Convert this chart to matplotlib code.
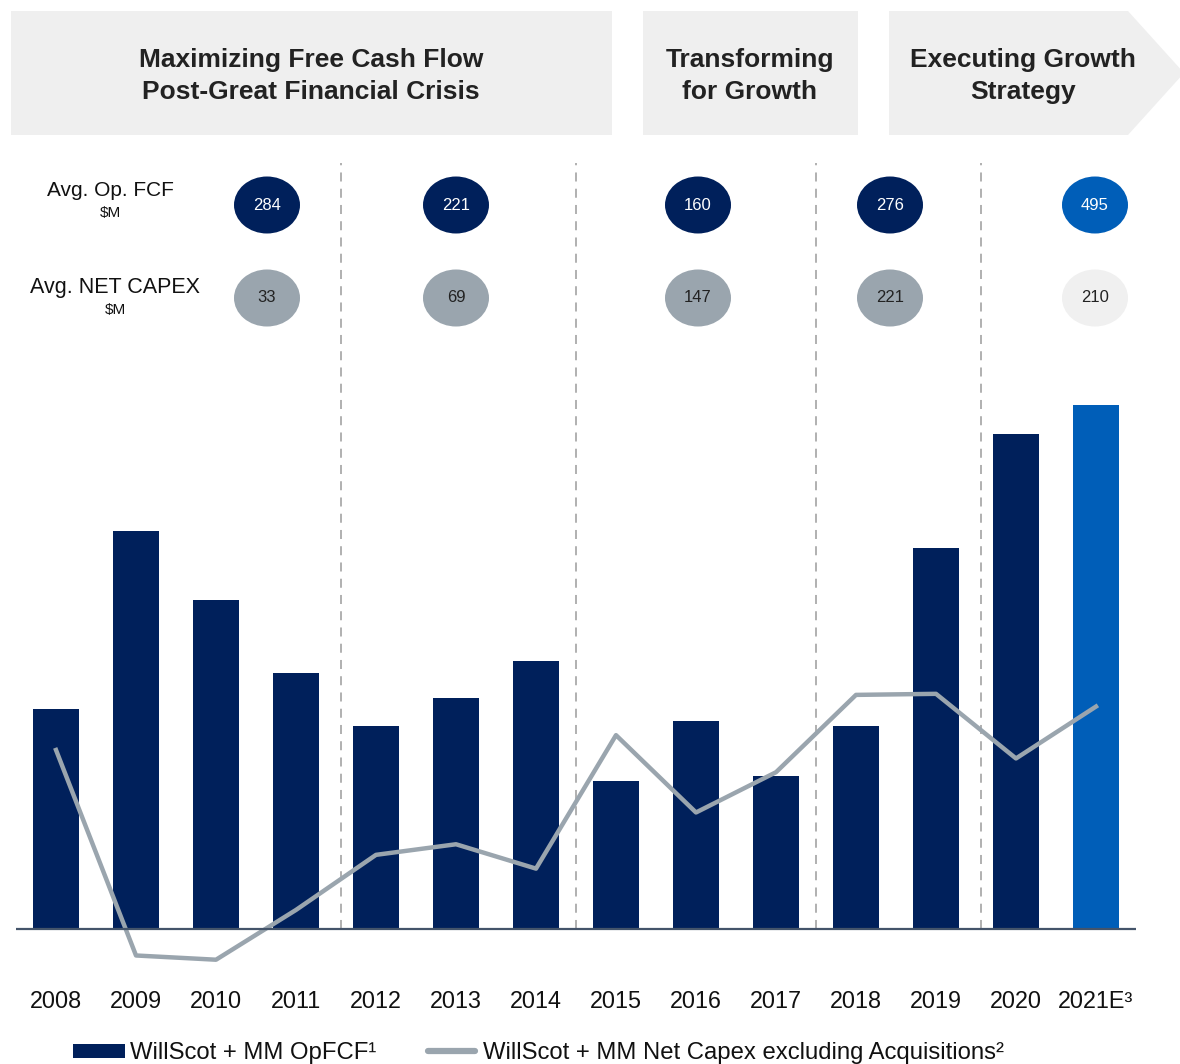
import matplotlib.pyplot as plt
from matplotlib.patches import Rectangle, Ellipse, Polygon

plt.rcParams['font.family'] = ['Liberation Sans', 'DejaVu Sans']

years = ['2008', '2009', '2010', '2011', '2012', '2013', '2014',
         '2015', '2016', '2017', '2018', '2019', '2020', '2021E³']
opfcf = [208, 376, 311, 242, 192, 218, 253, 140, 196, 144, 192, 360, 467, 495]
capex = [169, -25, -29, 18, 70, 80, 57, 183, 110, 148, 221, 222, 161, 210]

phases = ['Maximizing Free Cash Flow\nPost-Great Financial Crisis',
          'Transforming\nfor Growth',
          'Executing Growth\nStrategy']
avg_fcf = ['284', '221', '160', '276', '495']
avg_capex = ['33', '69', '147', '221', '210']
dividers = [3.56, 6.5, 9.5, 11.56]

NAVY = '#00205b'
BLUE = '#005eb8'
GREY = '#9aa5ae'

W, H = 1180, 1064
fig = plt.figure(figsize=(W / 100, H / 100), dpi=100)

# overlay in pixel coords for header, bubbles, legend
ov = fig.add_axes([0, 0, 1, 1])
ov.set_xlim(0, W)
ov.set_ylim(H, 0)
ov.axis('off')

ov.add_patch(Rectangle((11, 11), 601, 124, color='#efefef', lw=0))
ov.add_patch(Rectangle((643, 11), 215, 124, color='#efefef', lw=0))
ov.add_patch(Polygon([(889, 11), (1128, 11), (1184, 73), (1128, 135), (889, 135)],
                     closed=True, color='#efefef', lw=0))
for x, t in zip([311, 750, 1023], phases):
    ov.text(x, 76, t, ha='center', va='center', fontsize=19, fontweight='bold',
            color='#222222', linespacing=1.45)

ov.text(110, 190, 'Avg. Op. FCF', ha='center', va='center', fontsize=15, color='#111111')
ov.text(110, 213, '$M', ha='center', va='center', fontsize=11, color='#111111')
ov.text(115, 288, 'Avg. NET CAPEX', ha='center', va='center', fontsize=15.5, color='#111111')
ov.text(115, 310, '$M', ha='center', va='center', fontsize=11, color='#111111')

bx = [267, 456, 698, 890, 1095]
for i, x in enumerate(bx):
    c1 = BLUE if i == 4 else NAVY
    ov.add_patch(Ellipse((x, 205), 66, 57, color=c1, lw=0))
    ov.text(x, 205, avg_fcf[i], ha='center', va='center', fontsize=12, color='white')
    c2 = '#f0f0f0' if i == 4 else GREY
    ov.add_patch(Ellipse((x, 298), 66, 57, color=c2, lw=0))
    ov.text(x, 298, avg_capex[i], ha='center', va='center', fontsize=12, color='#222222')

# legend
ov.add_patch(Rectangle((73, 1044), 52, 14, color=NAVY, lw=0))
ov.text(130, 1053, 'WillScot + MM OpFCF¹', ha='left', va='center', fontsize=17.2, color='#111111')
ov.plot([428, 475], [1051, 1051], color=GREY, lw=4.5, solid_capstyle='round')
ov.text(483, 1053, 'WillScot + MM Net Capex excluding Acquisitions²', ha='left',
        va='center', fontsize=17.2, color='#111111')

# main chart
k = 0.944  # value per pixel
top_px, bot_px, base_px = 160, 970, 929
ax = fig.add_axes([16 / W, (H - bot_px) / H, 1120 / W, (bot_px - top_px) / H])
ax.set_xlim(-0.5, 13.5)
ax.set_ylim(-(bot_px - base_px) * k, (base_px - top_px) * k)
ax.axis('off')

xs = list(range(len(years)))
colors = [NAVY] * (len(years) - 1) + [BLUE]
ax.bar(xs, opfcf, width=0.57, color=colors, zorder=2)
ax.vlines(dividers, 0, (base_px - 163) * k, colors='#aaaaaa', linestyles=(0, (5, 4)),
          lw=1.3, zorder=1)
ax.plot(xs, capex, color=GREY, lw=3.2, zorder=3)
ax.axhline(0, color='#44546a', lw=1.6, zorder=4)
for x, y in zip(xs, years):
    ax.text(x, -(1001 - base_px) * k, y, ha='center', va='center', fontsize=16.8,
            color='#111111')

fig.savefig('out.png', dpi=100)
